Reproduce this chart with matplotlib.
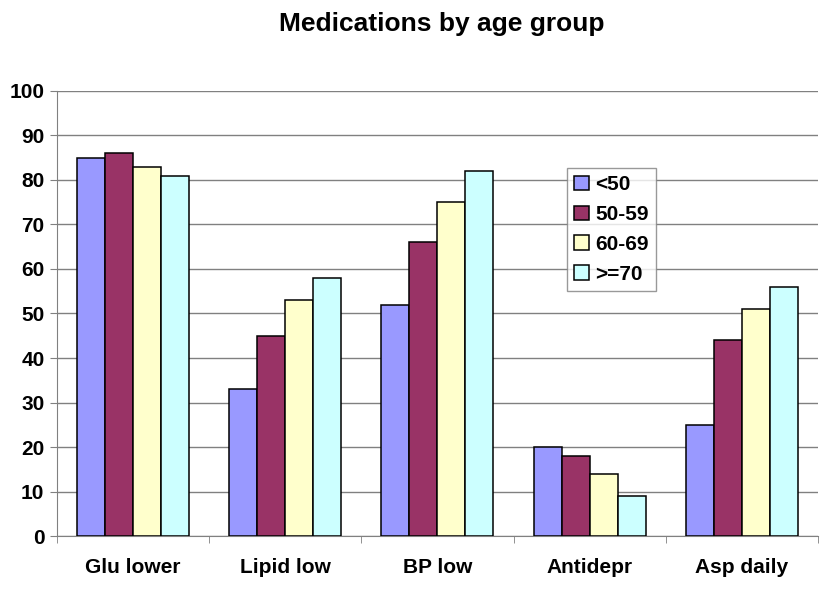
import matplotlib.pyplot as plt
import numpy as np

plt.rcParams['font.family'] = ['Liberation Sans', 'DejaVu Sans']

# data
categories = ["Glu lower", "Lipid low", "BP low", "Antidepr", "Asp daily"]
groups = ["<50", "50-59", "60-69", ">=70"]
under50 = [85, 33, 52, 20, 25]
age50_59 = [86, 45, 66, 18, 44]
age60_69 = [83, 53, 75, 14, 51]
over70 = [81, 58, 82, 9, 56]
series = [under50, age50_59, age60_69, over70]
colors = ["#9999FF", "#993366", "#FFFFCC", "#CCFFFF"]

fig = plt.figure(figsize=(8.25, 5.9), dpi=100)
ax = fig.add_axes([0.069, 0.0915, 0.9225, 0.7543])

x = np.arange(len(categories))
w = 0.184
for i, vals in enumerate(series):
    ax.bar(x + (i - 1.5) * w, vals, w, color=colors[i], edgecolor="black",
           linewidth=1.1, label=groups[i], zorder=3)

ax.set_xlim(-0.5, len(categories) - 0.5)
ax.set_ylim(0, 100)
ax.set_yticks(range(0, 101, 10))
ax.yaxis.grid(True, color="#808080", linewidth=1, zorder=0)

ax.set_xticks(x)
ax.set_xticklabels(categories, fontsize=15, fontweight="bold")
ax.tick_params(axis="x", length=0, pad=16)
ax.set_xticks(np.arange(-0.5, len(categories), 1), minor=True)
ax.tick_params(axis="x", which="minor", length=5, color="#808080")
ax.tick_params(axis="y", length=5, color="#808080", labelsize=15, pad=4)
for lbl in ax.get_yticklabels():
    lbl.set_fontweight("bold")

for s in ["top", "right"]:
    ax.spines[s].set_visible(False)
for s in ["left", "bottom"]:
    ax.spines[s].set_color("#808080")

fig.suptitle("Medications by age group", x=0.536, y=0.98, fontsize=19,
             fontweight="bold")

leg = ax.legend(loc="upper left", bbox_to_anchor=(0.670, 0.827),
                prop={"weight": "bold", "size": 15}, frameon=True, fancybox=False,
                edgecolor="#808080", handlelength=0.7, handleheight=0.7,
                handletextpad=0.3, borderpad=0.35, labelspacing=0.52,
                borderaxespad=0)
leg.get_frame().set_linewidth(1)

fig.savefig("out.png")
